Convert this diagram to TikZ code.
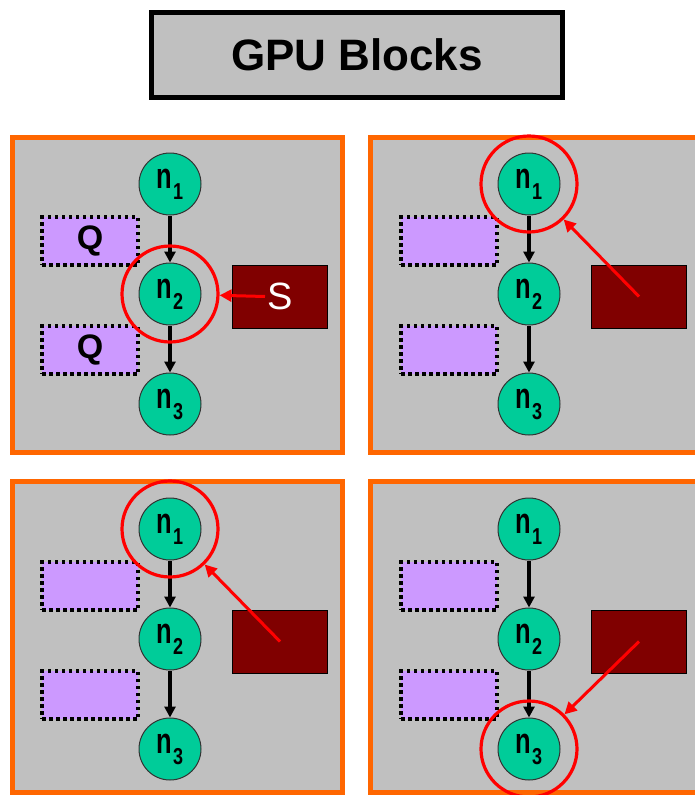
\documentclass[tikz,border=0pt]{standalone}
\usepackage{fontspec}
\setmainfont{Liberation Sans}
\usetikzlibrary{arrows.meta}
\definecolor{panelgray}{HTML}{C0C0C0}
\definecolor{orangeb}{HTML}{FF6600}
\definecolor{nodegreen}{HTML}{00CC99}
\definecolor{darkred}{HTML}{800000}
\definecolor{lav}{HTML}{CC99FF}
\newcommand\nlab[1]{\scalebox{0.85}[1.2]{n}\kern0.5pt\raisebox{-11pt}{\fontsize{20}{20}\selectfont\bfseries\scalebox{0.9}[1.15]{#1}}}
% #1 prefix, #2 x shift, #3 y shift, #4 Q text, #5 S text
\newcommand\panelbase[5]{%
  \begin{scope}[shift={(#2,#3)}]
    \node[gnode] (#1n1) at (170,184) {\nlab{1}};
    \node[gnode] (#1n2) at (170,294) {\nlab{2}};
    \node[gnode] (#1n3) at (170,404) {\nlab{3}};
    \draw[flow] (#1n1) -- (#1n2);
    \draw[flow] (#1n2) -- (#1n3);
    \node[qbox] (#1q1) at (90,241) {#4};
    \node[qbox] (#1q2) at (90,350) {#4};
    \node[sbox] (#1s) at (280,296.5) {#5};
  \end{scope}}
\begin{document}
\begin{tikzpicture}[x=1pt,y=-1pt,
  panel/.style={draw=orangeb, fill=panelgray, line width=5pt, rectangle, inner sep=0pt, minimum width=330pt},
  gnode/.style={circle, draw=black!80, line width=1pt, fill=nodegreen, minimum size=62pt, inner sep=0pt, font=\fontsize{30}{30}\selectfont\bfseries},
  ring/.style={circle, draw=red, line width=3.2pt, minimum size=96pt, inner sep=0pt},
  flow/.style={-{Triangle[length=11pt,width=11pt]}, line width=3.2pt, black},
  hit/.style={-{Triangle[length=12pt,width=12pt]}, line width=3pt, red},
  qbox/.style={draw=black, fill=lav, line width=3.5pt, dash pattern=on 3.5pt off 3.5pt, minimum width=96pt, minimum height=48pt, inner sep=0pt, font=\fontsize{34}{34}\selectfont\bfseries},
  sbox/.style={draw=black, fill=darkred, line width=1pt, minimum width=95pt, minimum height=63pt, inner sep=0pt, text=white, font=\fontsize{38}{38}\selectfont},
  titlebox/.style={draw=black, fill=panelgray, line width=5pt, minimum width=411pt, minimum height=85pt, inner sep=0pt, font=\fontsize{44}{44}\selectfont\bfseries}]
\useasboundingbox (0,0) rectangle (695,795);
\clip (0,0) rectangle (695,795);
\node[titlebox] (title) at (357,55) {GPU Blocks};
% panels
\node[panel, minimum height=315pt] (p1) at (177.5,295) {};
\node[panel, minimum height=315pt] (p2) at (535.5,295) {};
\node[panel, minimum height=311pt] (p3) at (177.5,637) {};
\node[panel, minimum height=311pt] (p4) at (535.5,637) {};
% top left
\panelbase{a}{0}{0}{Q}{S}
\node[ring] (ar) at (an2) {};
\coordinate (as) at ([xshift=-15pt]as.center);
\draw[hit] (as) -- (ar);
% top right
\panelbase{b}{359}{0}{}{}
\node[ring] (br) at (bn1) {};
\draw[hit] (bs.center) -- (br);
% bottom left
\panelbase{c}{0}{345}{}{}
\node[ring] (cr) at (cn1) {};
\draw[hit] (cs.center) -- (cr);
% bottom right
\panelbase{d}{359}{345}{}{}
\node[ring] (dr) at (dn3) {};
\draw[hit] (ds.center) -- (dr);
\end{tikzpicture}
\end{document}
